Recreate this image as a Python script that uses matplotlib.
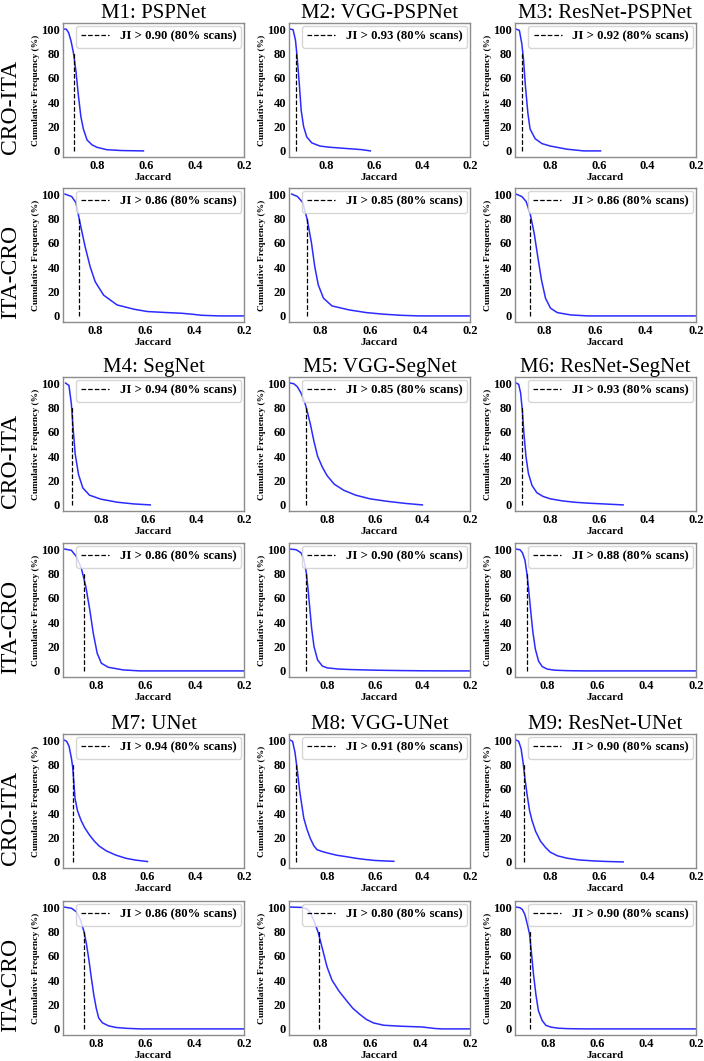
import matplotlib
matplotlib.use("Agg")
import matplotlib.pyplot as plt

plt.rcParams['font.family'] = ['Liberation Serif', 'DejaVu Serif']

# model names, one per column block
titles = ["M1: PSPNet", "M2: VGG-PSPNet", "M3: ResNet-PSPNet",
          "M4: SegNet", "M5: VGG-SegNet", "M6: ResNet-SegNet",
          "M7: UNet", "M8: VGG-UNet", "M9: ResNet-UNet"]
directions = ["CRO-ITA", "ITA-CRO"]

# JI at 80% of scans, as written in the legends
ji_cro = [0.90, 0.93, 0.92, 0.94, 0.85, 0.93, 0.94, 0.91, 0.90]
ji_ita = [0.86, 0.85, 0.86, 0.86, 0.90, 0.88, 0.86, 0.80, 0.90]

# where the dashed marker sits in each panel
cut_cro = [0.893, 0.925, 0.916, 0.922, 0.887, 0.915, 0.91, 0.93, 0.91]
cut_ita = [0.866, 0.851, 0.858, 0.852, 0.887, 0.882, 0.85, 0.804, 0.876]

# left end of the (reversed) Jaccard axis
xmax_cro = [0.938, 0.956, 0.945, 0.959, 0.96, 0.945, 0.95, 0.96, 0.945]
xmax_ita = [0.93, 0.924, 0.918, 0.936, 0.96, 0.93, 0.935, 0.924, 0.935]

# cumulative frequency curves, CRO-ITA
m1_cro_x = [0.936, 0.925, 0.915, 0.905, 0.895, 0.885, 0.875, 0.865, 0.855, 0.84, 0.82, 0.80, 0.76, 0.70, 0.61]
m1_cro_y = [100, 100, 97, 90, 80, 65, 45, 28, 18, 9, 5, 3, 1, 0.3, 0]
m2_cro_x = [0.95, 0.939, 0.929, 0.922, 0.913, 0.905, 0.895, 0.882, 0.861, 0.827, 0.786, 0.718, 0.65, 0.616]
m2_cro_y = [100, 99.5, 91, 77, 55, 33, 20, 11.5, 6.6, 4, 3, 2, 1, 0]
m3_cro_x = [0.941, 0.927, 0.917, 0.91, 0.902, 0.892, 0.883, 0.862, 0.834, 0.80, 0.731, 0.662, 0.593]
m3_cro_y = [100, 99, 88, 75, 53, 31, 18, 10, 6, 4, 1.4, 0, 0]
m4_cro_x = [0.948, 0.934, 0.924, 0.917, 0.908, 0.894, 0.876, 0.848, 0.80, 0.731, 0.662, 0.593]
m4_cro_y = [100, 98, 83, 64, 42, 25, 14, 8, 4.7, 2.2, 0.8, 0]
m5_cro_x = [0.955, 0.94, 0.925, 0.91, 0.895, 0.885, 0.87, 0.855, 0.84, 0.82, 0.80, 0.77, 0.73, 0.68, 0.62, 0.55, 0.47, 0.40]
m5_cro_y = [100, 99.5, 97, 92, 85, 78, 66, 52, 40, 31, 24, 17, 12, 8, 5, 3, 1.2, 0]
m6_cro_x = [0.94, 0.93, 0.922, 0.915, 0.908, 0.9, 0.89, 0.875, 0.855, 0.83, 0.80, 0.75, 0.70, 0.65, 0.6, 0.55, 0.5]
m6_cro_y = [100, 99, 92, 78, 58, 40, 26, 16, 10, 7, 5, 3.3, 2.2, 1.5, 1, 0.5, 0]
m7_cro_x = [0.945, 0.935, 0.925, 0.915, 0.91, 0.905, 0.9, 0.89, 0.875, 0.86, 0.84, 0.82, 0.8, 0.77, 0.73, 0.69, 0.65, 0.6]
m7_cro_y = [100, 99, 95, 85, 78, 65, 52, 42, 34, 28, 22, 17, 13, 9, 5.5, 3, 1.5, 0.3]
m8_cro_x = [0.955, 0.945, 0.935, 0.925, 0.915, 0.905, 0.898, 0.885, 0.87, 0.855, 0.842, 0.82, 0.8, 0.76, 0.72, 0.68, 0.64, 0.6, 0.56, 0.52]
m8_cro_y = [100, 99, 90, 75, 58, 45, 36, 27, 19, 13, 10, 8.5, 7.4, 5.5, 4.3, 3, 2, 1.2, 0.8, 0.5]
m9_cro_x = [0.94, 0.93, 0.92, 0.912, 0.905, 0.895, 0.885, 0.875, 0.86, 0.84, 0.82, 0.8, 0.77, 0.73, 0.68, 0.62, 0.56, 0.5]
m9_cro_y = [100, 99, 93, 82, 70, 55, 42, 34, 25, 17, 12, 8, 5, 3, 1.6, 0.8, 0.3, 0]

# cumulative frequency curves, ITA-CRO
m1_ita_x = [0.922, 0.895, 0.878, 0.861, 0.841, 0.82, 0.80, 0.766, 0.712, 0.644, 0.59, 0.508, 0.453, 0.41, 0.37, 0.30, 0.2]
m1_ita_y = [100, 98, 93, 76, 57, 40, 28, 17, 9, 5.5, 3.6, 2.7, 2.2, 1.4, 0.5, 0, 0]
m2_ita_x = [0.913, 0.89, 0.869, 0.851, 0.834, 0.821, 0.807, 0.786, 0.752, 0.683, 0.614, 0.545, 0.476, 0.407, 0.2]
m2_ita_y = [100, 98, 93, 79, 59.7, 40.5, 25.5, 14.5, 8.2, 4.9, 2.7, 1.4, 0.5, 0, 0]
m3_ita_x = [0.914, 0.891, 0.874, 0.858, 0.842, 0.828, 0.813, 0.797, 0.777, 0.75, 0.697, 0.63, 0.2]
m3_ita_y = [100, 98, 94, 84, 68, 49, 29.6, 14.5, 6.3, 2.7, 0.8, 0, 0]
m4_ita_x = [0.929, 0.902, 0.882, 0.861, 0.843, 0.827, 0.813, 0.797, 0.78, 0.752, 0.691, 0.623, 0.2]
m4_ita_y = [100, 99, 94, 84, 69, 50, 31, 14.5, 6.3, 3, 0.8, 0, 0]
m5_ita_x = [0.955, 0.93, 0.91, 0.9, 0.893, 0.887, 0.88, 0.872, 0.865, 0.855, 0.84, 0.82, 0.80, 0.75, 0.7, 0.6, 0.5, 0.4, 0.3, 0.2]
m5_ita_y = [100, 99.5, 97, 93, 87, 80, 67, 50, 35, 20, 9, 4, 2.5, 1.5, 1.1, 0.6, 0.3, 0.1, 0, 0]
m6_ita_x = [0.925, 0.91, 0.9, 0.89, 0.882, 0.875, 0.867, 0.858, 0.848, 0.835, 0.82, 0.80, 0.77, 0.72, 0.65, 0.2]
m6_ita_y = [100, 99.5, 97, 91, 80, 67, 50, 32, 18, 8, 3.5, 1.5, 0.6, 0.2, 0, 0]
m7_ita_x = [0.93, 0.9, 0.88, 0.865, 0.85, 0.84, 0.83, 0.82, 0.81, 0.8, 0.79, 0.775, 0.75, 0.72, 0.68, 0.62, 0.2]
m7_ita_y = [100, 99, 96, 90, 80, 70, 57, 42, 28, 17, 9, 5, 2.5, 1.2, 0.5, 0, 0]
m8_ita_x = [0.917, 0.869, 0.848, 0.835, 0.821, 0.807, 0.793, 0.772, 0.752, 0.724, 0.697, 0.669, 0.641, 0.614, 0.586, 0.545, 0.476, 0.393, 0.338, 0.31, 0.2]
m8_ita_y = [100, 99.7, 98, 94, 87, 79, 68, 51, 40, 31, 24, 17, 12, 7.7, 4.9, 3, 2.2, 1.6, 0.3, 0, 0]
m9_ita_x = [0.93, 0.915, 0.905, 0.895, 0.885, 0.876, 0.868, 0.86, 0.85, 0.84, 0.825, 0.81, 0.79, 0.76, 0.72, 0.65, 0.2]
m9_ita_y = [100, 99.5, 98, 94, 86, 78, 62, 45, 28, 15, 7, 3, 1.5, 0.6, 0.2, 0, 0]

cro_x = [m1_cro_x, m2_cro_x, m3_cro_x, m4_cro_x, m5_cro_x, m6_cro_x, m7_cro_x, m8_cro_x, m9_cro_x]
cro_y = [m1_cro_y, m2_cro_y, m3_cro_y, m4_cro_y, m5_cro_y, m6_cro_y, m7_cro_y, m8_cro_y, m9_cro_y]
ita_x = [m1_ita_x, m2_ita_x, m3_ita_x, m4_ita_x, m5_ita_x, m6_ita_x, m7_ita_x, m8_ita_x, m9_ita_x]
ita_y = [m1_ita_y, m2_ita_y, m3_ita_y, m4_ita_y, m5_ita_y, m6_ita_y, m7_ita_y, m8_ita_y, m9_ita_y]

W, H = 704, 1061
fig = plt.figure(figsize=(W / 100, H / 100), dpi=100)

col_left = [63, 289, 515]
row_top = [23, 188, 377, 543, 734, 901]
ax_w, ax_h = 181, 134

for g in range(3):
    for r in range(2):
        top = row_top[2 * g + r]
        for c in range(3):
            m = 3 * g + c
            ax = fig.add_axes([col_left[c] / W, 1 - (top + ax_h) / H, ax_w / W, ax_h / H])
            if r == 0:
                x, y, cut, ji, xmax = cro_x[m], cro_y[m], cut_cro[m], ji_cro[m], xmax_cro[m]
            else:
                x, y, cut, ji, xmax = ita_x[m], ita_y[m], cut_ita[m], ji_ita[m], xmax_ita[m]
            ax.plot(x, y, color="#2b2bff", lw=1.1)
            ax.plot([cut, cut], [0, 80], "k--", lw=0.9, label="JI > %.2f (80%% scans)" % ji)
            ax.set_xlim(xmax, 0.2)
            ax.set_ylim(-5, 105)
            ax.set_xticks([0.8, 0.6, 0.4, 0.2])
            ax.set_xticklabels(["0.8", "0.6", "0.4", "0.2"])
            ax.set_yticks([0, 20, 40, 60, 80, 100])
            ax.tick_params(length=0, pad=2, labelsize=9)
            for lab in ax.get_xticklabels() + ax.get_yticklabels():
                lab.set_fontweight("bold")
            for sp in ax.spines.values():
                sp.set_color("#8c8c8c")
                sp.set_linewidth(1.0)
            ax.set_xlabel("Jaccard", fontsize=7.8, fontweight="bold", labelpad=1)
            ax.set_ylabel("Cumulative Frequency (%)", fontsize=6.8, fontweight="bold", labelpad=1)
            ax.legend(loc="upper right", prop={"size": 9.2, "weight": "bold"},
                      borderaxespad=0.2, handlelength=2.2, fancybox=True)
            if r == 0:
                ax.set_title(titles[m], fontsize=15, pad=3)
        fig.text(11 / W, 1 - (top + ax_h / 2 + 17) / H, directions[r],
                 rotation=90, fontsize=17, ha="center", va="center")

fig.savefig("out.png", dpi=100)
